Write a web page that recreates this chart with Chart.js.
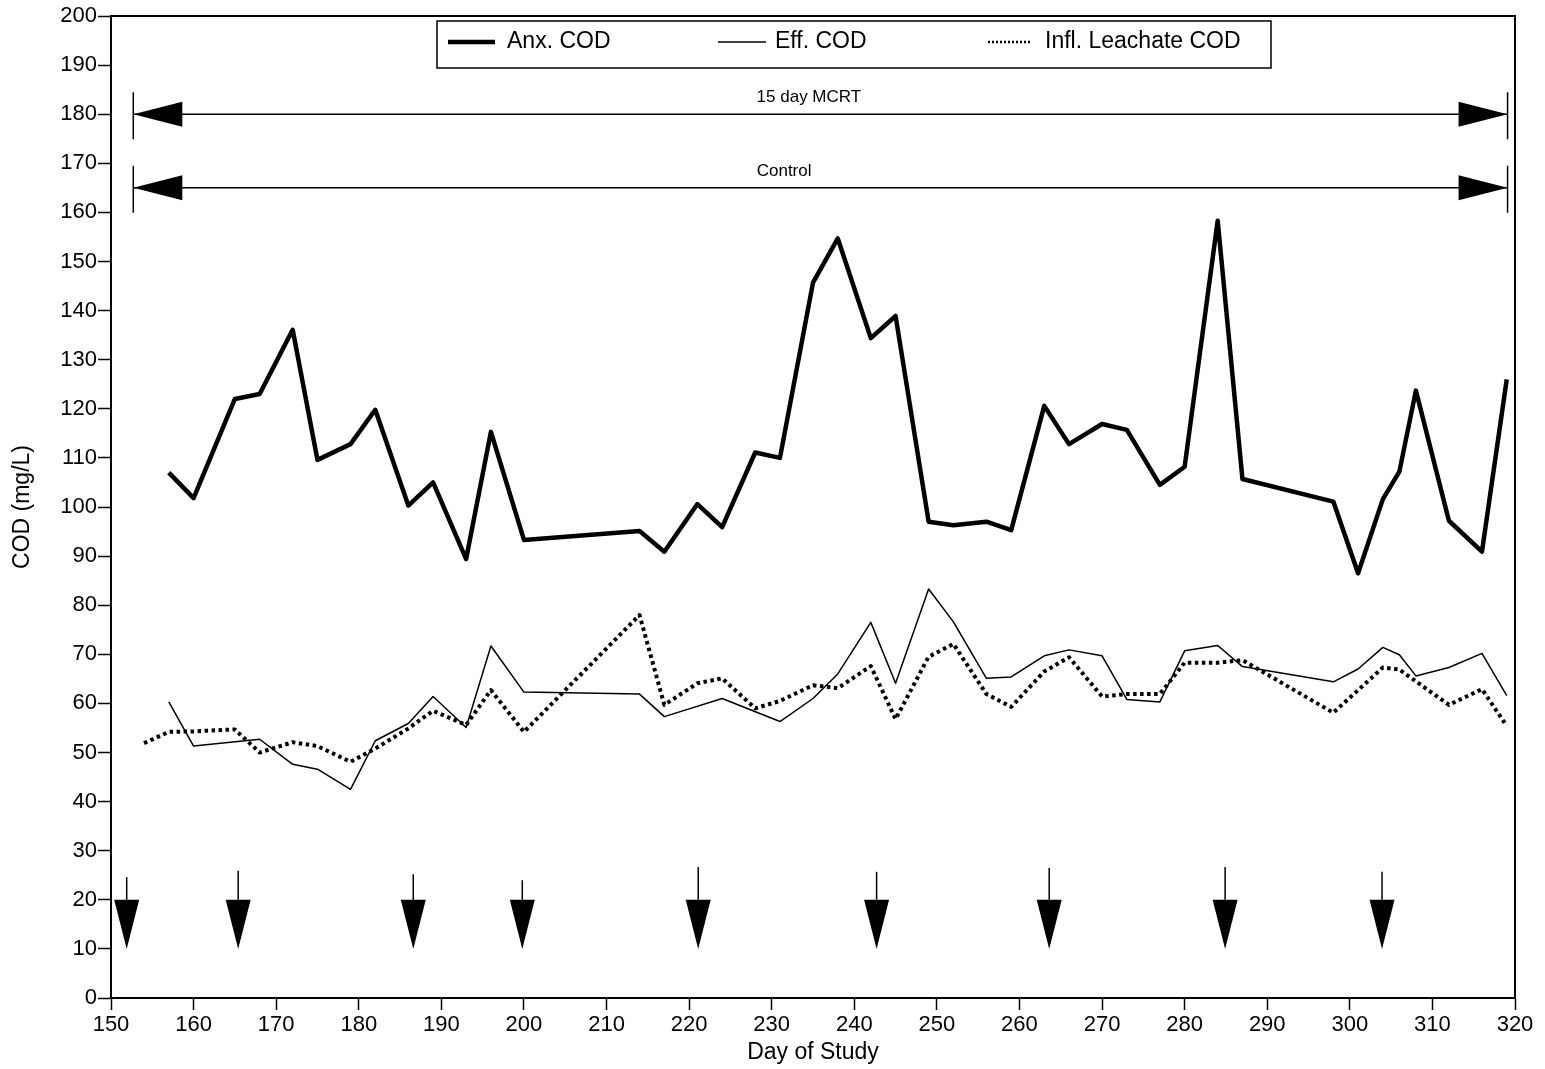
<!DOCTYPE html>
<html>
<head>
<meta charset="utf-8">
<title>COD by Day of Study</title>
<script src="https://cdn.jsdelivr.net/npm/chart.js@4.4.1/dist/chart.umd.min.js"></script>
<style>
  html, body { margin: 0; padding: 0; background: #fff; }
  #wrap { width: 1545px; height: 1069px; }
</style>
</head>
<body>
<div id="wrap"><canvas id="chart" width="1545" height="1069"></canvas></div>
<script>
// Anoxic tank COD (mg/L) by day of study
const anxDays = [157, 160, 165, 168, 172, 175, 179, 182, 186, 189, 193, 196, 200, 214, 217, 221, 224, 228, 231, 235, 238, 242, 245, 249, 252, 256, 259, 263, 266, 270, 273, 277, 280, 284, 287, 298, 301, 304, 306, 308, 312, 316, 319];
const anxCOD = [107, 101.8, 122, 123, 136.1, 109.6, 112.8, 119.8, 100.3, 105, 89.4, 115.3, 93.3, 95.1, 90.9, 100.6, 95.9, 111.1, 110, 145.7, 154.7, 134.4, 138.9, 97, 96.3, 97, 95.3, 120.6, 112.8, 116.9, 115.7, 104.5, 108.2, 158.3, 105.7, 101.1, 86.5, 101.6, 107.2, 123.7, 97.2, 90.9, 126];

// Effluent COD (mg/L)
const effDays = [157, 160, 168, 172, 175, 179, 182, 186, 189, 193, 196, 200, 214, 217, 224, 231, 235, 238, 242, 245, 249, 252, 256, 259, 263, 266, 270, 273, 277, 280, 284, 287, 298, 301, 304, 306, 308, 312, 316, 319];
const effCOD = [60.3, 51.3, 52.7, 47.6, 46.6, 42.5, 52.4, 55.9, 61.4, 55.1, 71.7, 62.3, 61.9, 57.3, 61, 56.3, 61, 66, 76.5, 64.1, 83.3, 76.6, 65.1, 65.4, 69.7, 70.9, 69.7, 60.8, 60.3, 70.7, 71.8, 67.5, 64.4, 67, 71.4, 69.9, 65.6, 67.3, 70.2, 61.6];

// Influent leachate COD (mg/L)
const inflDays = [154, 157, 160, 165, 168, 172, 175, 179, 182, 186, 189, 193, 196, 200, 214, 217, 221, 224, 228, 231, 235, 238, 242, 245, 249, 252, 256, 259, 263, 266, 270, 273, 277, 280, 284, 287, 298, 304, 306, 312, 316, 319];
const inflCOD = [51.9, 54.2, 54.3, 54.7, 50, 52.1, 51.3, 48.1, 50.8, 54.9, 58.5, 55.6, 62.7, 54.2, 78, 59.7, 64.1, 65.1, 59, 60.5, 63.7, 63.1, 67.6, 56.8, 69.5, 72.1, 61.9, 59.3, 66.5, 69.4, 61.4, 61.9, 61.9, 68.3, 68.3, 68.8, 58.1, 67.3, 66.9, 59.7, 62.9, 55.4];

// Operating periods shown as double-headed spans
const spanLabels = ['15 day MCRT', 'Control'];
const spanLevels = [180, 165];
const spanStart = [152.7, 152.7];
const spanEnd = [319.1, 319.1];
const spanLabelDays = [234.5, 231.5];

// Event markers (down arrows): day, stem top and head range in mg/L
const eventDays = [151.9, 165.4, 186.6, 199.8, 221.1, 242.7, 263.6, 284.9, 303.9];
const eventStemTop = [24.6, 25.9, 25.2, 24, 26.7, 25.7, 26.5, 26.7, 25.7];
const eventHeadBase = 20;
const eventHeadTip = 10;

// Axis ranges and tick steps
const xMin = 150, xMax = 320, xStep = 10;
const yMin = 0, yMax = 200, yStep = 10;

const seriesNames = ['Anx. COD', 'Eff. COD', 'Infl. Leachate COD'];

const FONT = "'Liberation Sans', Arial, Helvetica, sans-serif";
const toPoints = (xs, ys) => xs.map((x, i) => ({ x: x, y: ys[i] }));

// Top and right edges of the plot frame
const framePlugin = {
  id: 'frame',
  afterDraw(chart) {
    const { ctx, chartArea: a } = chart;
    ctx.save();
    ctx.strokeStyle = '#000';
    ctx.lineWidth = 2;
    ctx.beginPath();
    ctx.moveTo(a.left, a.top);
    ctx.lineTo(a.right, a.top);
    ctx.lineTo(a.right, a.bottom);
    ctx.stroke();
    ctx.restore();
  }
};

// Period spans and event arrows placed through the chart scales
const markerPlugin = {
  id: 'markers',
  afterDatasetsDraw(chart) {
    const { ctx, scales: { x, y } } = chart;
    ctx.save();
    ctx.strokeStyle = '#000';
    ctx.fillStyle = '#000';

    // spans
    spanLevels.forEach((lvl, i) => {
      const yy = y.getPixelForValue(lvl);
      const x0 = x.getPixelForValue(spanStart[i]);
      const x1 = x.getPixelForValue(spanEnd[i]);
      const headLen = 49, headHalf = 12.5;
      ctx.lineWidth = 1.5;
      ctx.beginPath();
      ctx.moveTo(x0, yy); ctx.lineTo(x1, yy);
      ctx.moveTo(x0, yy - 22); ctx.lineTo(x0, yy + 25);
      ctx.moveTo(x1, yy - 22); ctx.lineTo(x1, yy + 25);
      ctx.stroke();
      ctx.beginPath();
      ctx.moveTo(x0, yy); ctx.lineTo(x0 + headLen, yy - headHalf); ctx.lineTo(x0 + headLen, yy + headHalf); ctx.closePath();
      ctx.fill();
      ctx.beginPath();
      ctx.moveTo(x1, yy); ctx.lineTo(x1 - headLen, yy - headHalf); ctx.lineTo(x1 - headLen, yy + headHalf); ctx.closePath();
      ctx.fill();
      ctx.font = '17px ' + FONT;
      ctx.textAlign = 'center';
      ctx.textBaseline = 'middle';
      ctx.fillText(spanLabels[i], x.getPixelForValue(spanLabelDays[i]), yy - 17);
    });

    // event arrows
    eventDays.forEach((d, i) => {
      const xx = x.getPixelForValue(d);
      const yTop = y.getPixelForValue(eventStemTop[i]);
      const yBase = y.getPixelForValue(eventHeadBase);
      const yTip = y.getPixelForValue(eventHeadTip);
      ctx.lineWidth = 1.5;
      ctx.beginPath();
      ctx.moveTo(xx, yTop); ctx.lineTo(xx, yBase);
      ctx.stroke();
      ctx.beginPath();
      ctx.moveTo(xx - 12.5, yBase); ctx.lineTo(xx + 12.5, yBase); ctx.lineTo(xx, yTip); ctx.closePath();
      ctx.fill();
    });
    ctx.restore();
  }
};

// Boxed legend inside the plot area
const legendPlugin = {
  id: 'boxLegend',
  afterDraw(chart) {
    const { ctx } = chart;
    const cy = 42;
    ctx.save();
    ctx.strokeStyle = '#000';
    ctx.fillStyle = '#000';
    ctx.lineWidth = 1.5;
    ctx.strokeRect(437, 21, 834, 47);

    // samples
    ctx.lineWidth = 4.5;
    ctx.beginPath(); ctx.moveTo(448, cy); ctx.lineTo(495, cy); ctx.stroke();
    ctx.lineWidth = 1.3;
    ctx.beginPath(); ctx.moveTo(718, cy); ctx.lineTo(766, cy); ctx.stroke();
    ctx.lineWidth = 2.5;
    ctx.setLineDash([2, 2]);
    ctx.beginPath(); ctx.moveTo(988, cy); ctx.lineTo(1032, cy); ctx.stroke();
    ctx.setLineDash([]);

    ctx.font = '23px ' + FONT;
    ctx.textAlign = 'left';
    ctx.textBaseline = 'middle';
    ctx.fillText(seriesNames[0], 507, cy);
    ctx.fillText(seriesNames[1], 775, cy);
    ctx.fillText(seriesNames[2], 1045, cy);
    ctx.restore();
  }
};

const tickFont = { family: FONT, size: 22 };
const titleFont = { family: FONT, size: 23 };

new Chart(document.getElementById('chart'), {
  type: 'line',
  data: {
    datasets: [
      {
        label: seriesNames[0],
        data: toPoints(anxDays, anxCOD),
        borderColor: '#000',
        borderWidth: 4.5,
        borderJoinStyle: 'round',
        pointRadius: 0,
        tension: 0,
        fill: false
      },
      {
        label: seriesNames[1],
        data: toPoints(effDays, effCOD),
        borderColor: '#000',
        borderWidth: 1.5,
        borderJoinStyle: 'round',
        pointRadius: 0,
        tension: 0,
        fill: false
      },
      {
        label: seriesNames[2],
        data: toPoints(inflDays, inflCOD),
        borderColor: '#000',
        borderWidth: 4,
        borderDash: [3.5, 3.5],
        borderCapStyle: 'butt',
        borderJoinStyle: 'round',
        pointRadius: 0,
        tension: 0,
        fill: false
      }
    ]
  },
  options: {
    responsive: false,
    animation: false,
    devicePixelRatio: 1,
    layout: { padding: { left: 0, right: 30, top: 16, bottom: 0 } },
    plugins: {
      legend: { display: false },
      tooltip: { enabled: false }
    },
    scales: {
      x: {
        type: 'linear',
        min: xMin,
        max: xMax,
        afterFit(scale) { scale.height = 71; },
        ticks: { stepSize: xStep, color: '#000', font: tickFont, padding: 2, maxRotation: 0, autoSkip: false },
        grid: { drawOnChartArea: false, drawTicks: true, tickLength: 12, tickColor: '#000', tickWidth: 1.5 },
        border: { display: true, color: '#000', width: 2 },
        title: { display: true, text: 'Day of Study', color: '#000', font: titleFont, padding: { top: 0, bottom: 3 } }
      },
      y: {
        type: 'linear',
        min: yMin,
        max: yMax,
        afterFit(scale) { scale.width = 111; },
        ticks: { stepSize: yStep, color: '#000', font: tickFont, padding: 1, autoSkip: false },
        grid: { drawOnChartArea: false, drawTicks: true, tickLength: 13, tickColor: '#000', tickWidth: 1.5 },
        border: { display: true, color: '#000', width: 2 },
        title: { display: true, text: 'COD (mg/L)', color: '#000', font: titleFont, padding: { top: 9, bottom: 0 } }
      }
    }
  },
  plugins: [framePlugin, markerPlugin, legendPlugin]
});
</script>
</body>
</html>
